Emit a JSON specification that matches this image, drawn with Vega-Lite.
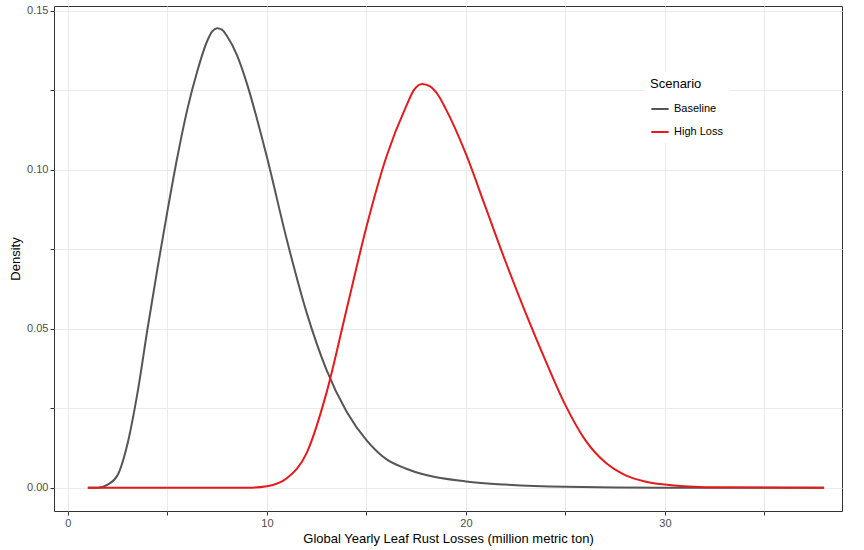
{
  "$schema": "https://vega.github.io/schema/vega-lite/v6.json",
  "width": 864,
  "height": 550,
  "autosize": {"type": "fit", "contains": "padding"},
  "background": "white",
  "padding": {"left": 9, "top": 5, "right": 22, "bottom": 5},
  "data": {
    "values": [
      {"x": 1, "d": 0, "s": "Baseline"},
      {"x": 1.5, "d": 0, "s": "Baseline"},
      {"x": 2, "d": 0.001, "s": "Baseline"},
      {"x": 2.5, "d": 0.004, "s": "Baseline"},
      {"x": 3, "d": 0.014, "s": "Baseline"},
      {"x": 3.5, "d": 0.03, "s": "Baseline"},
      {"x": 4, "d": 0.05, "s": "Baseline"},
      {"x": 4.5, "d": 0.069, "s": "Baseline"},
      {"x": 5, "d": 0.087, "s": "Baseline"},
      {"x": 5.5, "d": 0.104, "s": "Baseline"},
      {"x": 6, "d": 0.119, "s": "Baseline"},
      {"x": 6.5, "d": 0.131, "s": "Baseline"},
      {"x": 7, "d": 0.1405, "s": "Baseline"},
      {"x": 7.25, "d": 0.1435, "s": "Baseline"},
      {"x": 7.5, "d": 0.1445, "s": "Baseline"},
      {"x": 7.75, "d": 0.144, "s": "Baseline"},
      {"x": 8, "d": 0.142, "s": "Baseline"},
      {"x": 8.5, "d": 0.136, "s": "Baseline"},
      {"x": 9, "d": 0.127, "s": "Baseline"},
      {"x": 9.5, "d": 0.116, "s": "Baseline"},
      {"x": 10, "d": 0.104, "s": "Baseline"},
      {"x": 11, "d": 0.078, "s": "Baseline"},
      {"x": 12, "d": 0.055, "s": "Baseline"},
      {"x": 13, "d": 0.037, "s": "Baseline"},
      {"x": 14, "d": 0.024, "s": "Baseline"},
      {"x": 15, "d": 0.015, "s": "Baseline"},
      {"x": 16, "d": 0.009, "s": "Baseline"},
      {"x": 17, "d": 0.006, "s": "Baseline"},
      {"x": 18, "d": 0.004, "s": "Baseline"},
      {"x": 20, "d": 0.002, "s": "Baseline"},
      {"x": 22, "d": 0.001, "s": "Baseline"},
      {"x": 25, "d": 0.0003, "s": "Baseline"},
      {"x": 30, "d": 0, "s": "Baseline"},
      {"x": 38, "d": 0, "s": "Baseline"},
      {"x": 1, "d": 0, "s": "High Loss"},
      {"x": 9, "d": 0, "s": "High Loss"},
      {"x": 10, "d": 0.0005, "s": "High Loss"},
      {"x": 11, "d": 0.003, "s": "High Loss"},
      {"x": 12, "d": 0.011, "s": "High Loss"},
      {"x": 13, "d": 0.03, "s": "High Loss"},
      {"x": 14, "d": 0.056, "s": "High Loss"},
      {"x": 15, "d": 0.082, "s": "High Loss"},
      {"x": 16, "d": 0.104, "s": "High Loss"},
      {"x": 17, "d": 0.12, "s": "High Loss"},
      {"x": 17.4, "d": 0.1252, "s": "High Loss"},
      {"x": 17.8, "d": 0.127, "s": "High Loss"},
      {"x": 18.2, "d": 0.1262, "s": "High Loss"},
      {"x": 18.6, "d": 0.1235, "s": "High Loss"},
      {"x": 19, "d": 0.119, "s": "High Loss"},
      {"x": 20, "d": 0.105, "s": "High Loss"},
      {"x": 21, "d": 0.088, "s": "High Loss"},
      {"x": 22, "d": 0.071, "s": "High Loss"},
      {"x": 23, "d": 0.055, "s": "High Loss"},
      {"x": 24, "d": 0.04, "s": "High Loss"},
      {"x": 25, "d": 0.026, "s": "High Loss"},
      {"x": 26, "d": 0.015, "s": "High Loss"},
      {"x": 27, "d": 0.008, "s": "High Loss"},
      {"x": 28, "d": 0.004, "s": "High Loss"},
      {"x": 29, "d": 0.002, "s": "High Loss"},
      {"x": 30, "d": 0.001, "s": "High Loss"},
      {"x": 32, "d": 0.0002, "s": "High Loss"},
      {"x": 38, "d": 0, "s": "High Loss"}
    ]
  },
  "mark": {"type": "line", "strokeWidth": 2, "interpolate": "monotone"},
  "encoding": {
    "x": {
      "field": "x", "type": "quantitative",
      "title": "Global Yearly Leaf Rust Losses (million metric ton)",
      "scale": {"domain": [-0.7, 38.9], "nice": false, "zero": false},
      "axis": {"values": [0, 5, 10, 15, 20, 25, 30, 35], "labelExpr": "datum.value % 10 == 0 ? datum.label : ''"}
    },
    "y": {
      "field": "d", "type": "quantitative", "title": "Density",
      "scale": {"domain": [-0.0073, 0.1515], "nice": false, "zero": false},
      "axis": {"values": [0, 0.025, 0.05, 0.075, 0.1, 0.125, 0.15], "labelExpr": "abs(datum.value*20 - round(datum.value*20)) < 0.001 ? format(datum.value, '.2f') : ''"}
    },
    "color": {
      "field": "s", "type": "nominal", "title": "Scenario",
      "scale": {"domain": ["Baseline", "High Loss"], "range": ["#555555", "#e41a1c"]},
      "legend": {"orient": "none", "legendX": 590, "legendY": 66, "symbolType": "stroke", "symbolStrokeWidth": 2, "symbolSize": 300, "titleFontSize": 13, "titleFontWeight": "normal", "labelFontSize": 11, "titlePadding": 8, "rowPadding": 8, "fillColor": "white", "padding": 6}
    }
  },
  "config": {
    "font": "Liberation Sans",
    "view": {"stroke": "#333333", "strokeWidth": 1},
    "axis": {"gridColor": "#ebebeb", "domain": false, "tickColor": "#333333", "tickSize": 4, "labelColor": "#4d4d4d", "labelFontSize": 11, "titleFontSize": 13, "titleFontWeight": "normal", "titleColor": "black"}
  }
}
